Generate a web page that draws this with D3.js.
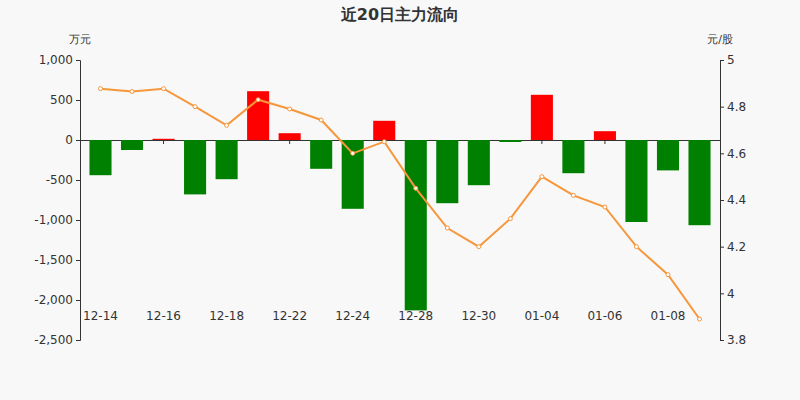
<!DOCTYPE html><html><head><meta charset="utf-8">
<script src="https://cdn.jsdelivr.net/npm/d3@7"></script>
<style>body{margin:0;background:#f8f8f8}svg{font-family:"DejaVu Sans",sans-serif}</style></head><body>
<svg id="c" width="800" height="400"></svg>
<script>
const dates=["12-14","12-15","12-16","12-17","12-18","12-21","12-22","12-23","12-24","12-25","12-28","12-29","12-30","12-31","01-04","01-05","01-06","01-07","01-08","01-11"];
const flows=[-440,-125,15,-680,-490,610,85,-360,-860,240,-2130,-790,-565,-25,565,-415,110,-1025,-380,-1065];
const prices=[4.877,4.865,4.877,4.80,4.72,4.83,4.79,4.743,4.60,4.65,4.45,4.28,4.20,4.32,4.50,4.42,4.37,4.20,4.08,3.89];
const leftTicks=[1000,500,0,-500,-1000,-1500,-2000,-2500];
const rightTicks=[5,4.8,4.6,4.4,4.2,4,3.8];
const svg=d3.select("#c");
svg.append("rect").attr("width",800).attr("height",400).attr("fill","#f8f8f8");
const x=d3.scaleBand().domain(dates).range([80,720]).padding(0.3);
const y=d3.scaleLinear().domain([-2500,1000]).range([340,60]);
const y2=d3.scaleLinear().domain([3.8,5]).range([340,60]);
const fmt=d3.format(",");
const la=svg.append("g").attr("transform","translate(80,0)").call(d3.axisLeft(y).tickValues(leftTicks).tickFormat(d=>fmt(d).replace("−","-")).tickSize(4));
const ra=svg.append("g").attr("transform","translate(720,0)").call(d3.axisRight(y2).tickValues(rightTicks).tickFormat(d=>d).tickSize(4));
const ba=svg.append("g").attr("transform","translate(0,140)").call(d3.axisBottom(x).tickValues(dates.filter((d,i)=>i%2==0)).tickSize(4).tickSizeOuter(0));
ba.selectAll("text").attr("dy",null).attr("y",(d)=>0).attr("transform","translate(0,180)");
[la,ra,ba].forEach(a=>{a.selectAll("path,line").attr("stroke","#333");a.selectAll("text").attr("font-size",12).attr("fill","#333").attr("font-family","DejaVu Sans")});
ba.select(".domain").attr("stroke","#333");
svg.selectAll(".bar").data(flows).join("rect").attr("x",(d,i)=>x(dates[i])).attr("width",x.bandwidth())
 .attr("y",d=>y(Math.max(0,d))).attr("height",d=>Math.abs(y(d)-y(0))).attr("fill",d=>d>=0?"#ff0000":"#008000");
const line=d3.line().x((d,i)=>x(dates[i])+x.bandwidth()/2).y(d=>y2(d));
svg.append("path").datum(prices).attr("d",line).attr("fill","none").attr("stroke","#f7963b").attr("stroke-width",2);
svg.selectAll(".pt").data(prices).join("circle").attr("cx",(d,i)=>x(dates[i])+x.bandwidth()/2).attr("cy",d=>y2(d)).attr("r",2).attr("fill","#fff").attr("stroke","#f7963b");
svg.append("text").attr("x",400).attr("y",20).attr("text-anchor","middle").attr("font-size",16).attr("font-weight","bold").attr("fill","#333").text("近20日主力流向");
svg.append("text").attr("x",80).attr("y",43).attr("text-anchor","middle").attr("font-size",11).attr("fill","#333").text("万元");
svg.append("text").attr("x",720).attr("y",43).attr("text-anchor","middle").attr("font-size",11).attr("fill","#333").text("元/股");
</script></body></html>
